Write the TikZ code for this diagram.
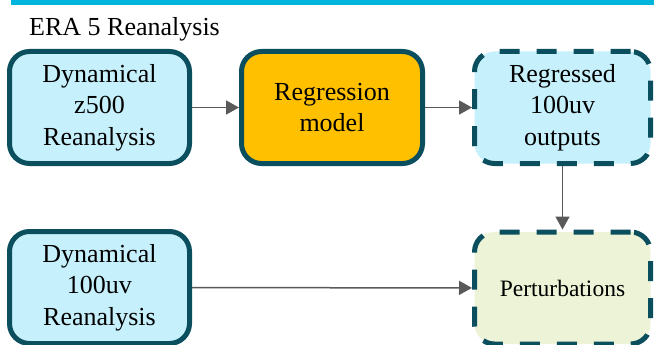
\documentclass[tikz,border=0pt]{standalone}
\usepackage{fontspec}
\setmainfont{Liberation Serif}
\usetikzlibrary{arrows.meta}

\definecolor{barblue}{HTML}{00B4DC}
\definecolor{edgeteal}{HTML}{0B4F5E}
\definecolor{iceblue}{HTML}{C6F1FC}
\definecolor{amber}{HTML}{FFC000}
\definecolor{paleolive}{HTML}{EDF3D7}
\definecolor{arrowgray}{HTML}{595959}

\begin{document}
\begin{tikzpicture}[x=1pt,y=-1pt,
    box/.style={draw=edgeteal, line width=5pt, rounded corners=20pt,
      minimum width=180pt, minimum height=112pt, inner sep=0pt,
      align=center, font=\fontsize{26}{31.5}\selectfont},
    dashbox/.style={box, minimum width=176pt, dash pattern=on 20pt off 17pt},
    link/.style={draw=arrowgray, line width=1.5pt,
      -{Triangle[length=13pt,width=14pt]}}]
  \useasboundingbox (0,0) rectangle (654,345);
  \clip (0,0) rectangle (654,345);

  % banner and heading
  \fill[barblue] (11,0) rectangle (654,5);
  \node[anchor=base west, inner sep=0pt, font=\fontsize{26}{31.5}\selectfont] (title) at (29,36) {ERA 5 Reanalysis};

  % top row
  \node[box, fill=iceblue] (z500) at (99.5,107.5) {Dynamical\\z500\\Reanalysis};
  \node[box, fill=amber, minimum width=181pt] (regr) at (332,107.5) {Regression\\model};
  \node[dashbox, fill=iceblue] (regout) at (562.5,107.5) {Regressed\\100uv\\outputs};

  % bottom row
  \node[box, fill=iceblue] (uv) at (99.5,287.5) {Dynamical\\100uv\\Reanalysis};
  \node[dashbox, fill=paleolive, font=\fontsize{23.5}{28}\selectfont] (pert) at (562.5,288) {Perturbations};

  \draw[link] (z500) -- (regr);
  \draw[link] (regr) -- (regout);
  \draw[link] (regout) -- (pert);
  \draw[link] (uv) -- (pert);
\end{tikzpicture}
\end{document}
